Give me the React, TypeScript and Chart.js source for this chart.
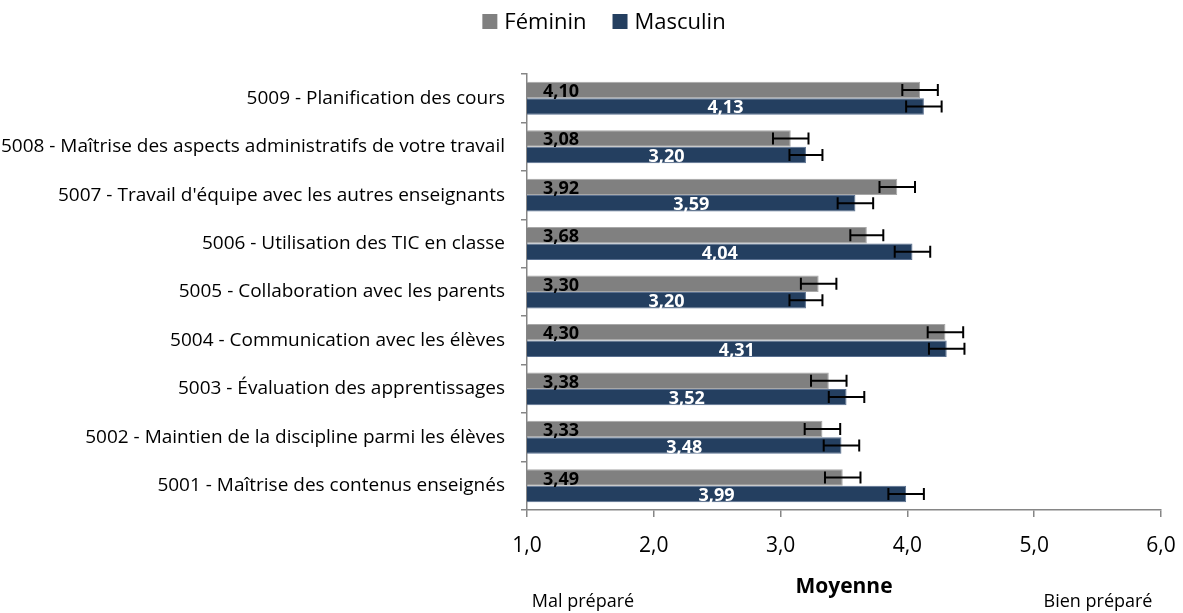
import React, { useEffect, useRef } from "react";
import { Chart, registerables } from "chart.js";

Chart.register(...registerables);

const categories = [
  "5009 - Planification des cours",
  "5008 - Maîtrise des aspects administratifs de votre travail",
  "5007 - Travail d'équipe avec les autres enseignants",
  "5006 - Utilisation des TIC en classe",
  "5005 - Collaboration avec les parents",
  "5004 - Communication avec les élèves",
  "5003 - Évaluation des apprentissages",
  "5002 - Maintien de la discipline parmi les élèves",
  "5001 - Maîtrise des contenus enseignés",
];
const femininValues = [4.1, 3.08, 3.92, 3.68, 3.3, 4.3, 3.38, 3.33, 3.49];
const masculinValues = [4.13, 3.2, 3.59, 4.04, 3.2, 4.31, 3.52, 3.48, 3.99];
const femininErrors = [0.14, 0.14, 0.14, 0.13, 0.14, 0.14, 0.14, 0.14, 0.14];
const masculinErrors = [0.14, 0.13, 0.14, 0.14, 0.13, 0.14, 0.14, 0.14, 0.14];
const seriesNames = ["Féminin", "Masculin"];
const seriesColors = ["#808080", "#243F60"];
const xMin = 1;
const xMax = 6;
const xStep = 1;
const axisTitle = "Moyenne";
const leftNote = "Mal préparé";
const rightNote = "Bien préparé";

const FONT = "'Open Sans'";

const fmt = (v: number, d: number) => v.toFixed(d).replace(".", ",");

const overlayPlugin = {
  id: "overlay",
  afterDatasetsDraw(chart: any) {
    const ctx = chart.ctx;
    const xs = chart.scales.x;
    const errs = [femininErrors, masculinErrors];
    const left = xs.getPixelForValue(xs.min);
    ctx.save();
    chart.data.datasets.forEach((ds: any, di: number) => {
      const meta = chart.getDatasetMeta(di);
      meta.data.forEach((el: any, i: number) => {
        const v = ds.data[i];
        const e = errs[di][i];
        const x1 = xs.getPixelForValue(v - e);
        const x2 = xs.getPixelForValue(v + e);
        const y = el.y;
        ctx.strokeStyle = "#000";
        ctx.lineWidth = 2;
        ctx.beginPath();
        ctx.moveTo(x1, y);
        ctx.lineTo(x2, y);
        ctx.moveTo(x1, y - 6);
        ctx.lineTo(x1, y + 6);
        ctx.moveTo(x2, y - 6);
        ctx.lineTo(x2, y + 6);
        ctx.stroke();
        ctx.font = `bold 18px ${FONT}`;
        ctx.textBaseline = "alphabetic";
        const label = fmt(v, 2);
        if (di === 0) {
          ctx.fillStyle = "#000";
          ctx.textAlign = "left";
          ctx.fillText(label, left + 16, y + 7);
        } else {
          ctx.fillStyle = "#fff";
          ctx.textAlign = "center";
          ctx.fillText(label, (left + el.x) / 2, y + 7);
        }
      });
    });
    ctx.restore();
  },
  afterDraw(chart: any) {
    const ctx = chart.ctx;
    const area = chart.chartArea;
    ctx.save();
    // legend
    ctx.font = `22px ${FONT}`;
    ctx.textBaseline = "alphabetic";
    ctx.textAlign = "left";
    const box = 15;
    const gap = 7;
    const itemGap = 26;
    const widths = seriesNames.map((n) => box + gap + ctx.measureText(n).width);
    const total = widths.reduce((a, b) => a + b, 0) + itemGap;
    let lx = 604 - total / 2;
    seriesNames.forEach((n, i) => {
      ctx.fillStyle = seriesColors[i];
      ctx.fillRect(lx, 14, box, box);
      ctx.fillStyle = "#000";
      ctx.fillText(n, lx + box + gap, 29);
      lx += widths[i] + itemGap;
    });
    // axis title
    ctx.textAlign = "center";
    ctx.font = `bold 21px ${FONT}`;
    ctx.fillText(axisTitle, (area.left + area.right) / 2, 593);
    ctx.font = `18px ${FONT}`;
    ctx.fillText(leftNote, 583, 607);
    ctx.fillText(rightNote, 1098, 607);
    ctx.restore();
  },
};

export default function App() {
  const ref = useRef<HTMLCanvasElement | null>(null);
  useEffect(() => {
    if (!ref.current) return;
    const chart = new Chart(ref.current, {
      type: "bar",
      data: {
        labels: categories,
        datasets: [
          {
            label: seriesNames[0],
            data: femininValues,
            backgroundColor: seriesColors[0],
            borderColor: "#A8A8A8",
            borderWidth: 1,
            categoryPercentage: 0.68,
            barPercentage: 1,
          },
          {
            label: seriesNames[1],
            data: masculinValues,
            backgroundColor: seriesColors[1],
            borderColor: "#5A7090",
            borderWidth: 1,
            categoryPercentage: 0.68,
            barPercentage: 1,
          },
        ],
      },
      options: {
        indexAxis: "y",
        animation: false,
        responsive: true,
        maintainAspectRatio: false,
        layout: { padding: { top: 74, right: 22, left: 0, bottom: 43 } },
        plugins: {
          legend: { display: false },
          tooltip: { enabled: false },
        },
        scales: {
          x: {
            min: xMin,
            max: xMax,
            afterFit: (scale: any) => {
              scale.height = 60;
              scale.paddingLeft = 0;
              scale.paddingRight = 0;
            },
            ticks: {
              stepSize: xStep,
              font: { family: FONT, size: 21 },
              color: "#000",
              padding: 16,
              callback: (v: any) => fmt(Number(v), 1),
            },
            grid: {
              drawOnChartArea: false,
              drawTicks: true,
              tickLength: 7,
              color: "#868686",
              lineWidth: 1.5,
            },
            border: { color: "#868686", width: 1.5 },
          },
          y: {
            afterFit: (scale: any) => {
              scale.width = 527;
              scale.paddingTop = 0;
              scale.paddingBottom = 0;
            },
            ticks: {
              font: { family: FONT, size: 19 },
              color: "#000",
              padding: 16,
            },
            grid: {
              offset: true,
              drawOnChartArea: false,
              drawTicks: true,
              tickLength: 6,
              color: "#868686",
              lineWidth: 1.5,
            },
            border: { color: "#868686", width: 1.5 },
          },
        },
      },
      plugins: [overlayPlugin],
    } as any);
    return () => chart.destroy();
  }, []);
  return (
    <div style={{ position: "fixed", left: 0, top: 0, width: 1183, height: 613, background: "#fff" }}>
      <canvas ref={ref} />
    </div>
  );
}
